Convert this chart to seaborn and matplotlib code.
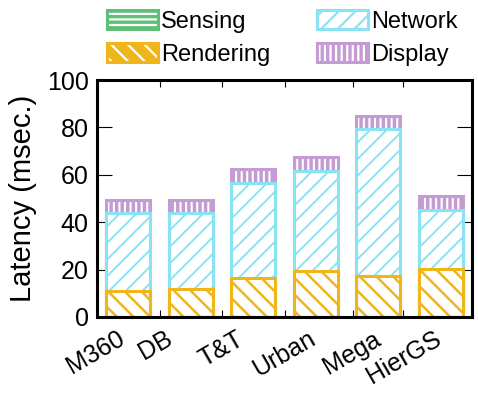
import numpy as np
import pandas as pd
import matplotlib
matplotlib.use('Agg')
import matplotlib.pyplot as plt
import seaborn as sns
from matplotlib.patches import Patch
from matplotlib.legend_handler import HandlerTuple

# data (msec.)
datasets = ['M360', 'DB', 'T&T', 'Urban', 'Mega', 'HierGS']
sensing = [0.4, 0.4, 0.4, 0.4, 0.4, 0.4]
rendering = [10.6, 11.4, 16.1, 19.0, 16.9, 19.9]
network = [32.9, 32.2, 40.0, 42.0, 62.0, 24.8]
display = [5.3, 5.4, 5.8, 5.9, 5.7, 5.8]

df = pd.DataFrame({'dataset': datasets, 'Sensing': sensing, 'Rendering': rendering,
                   'Network': network, 'Display': display})
layers = ['Sensing', 'Rendering', 'Network', 'Display']
tops = df[layers].cumsum(axis=1)

c_sens = '#5fbf77'
c_rend = '#f1b51c'
c_net = '#8ae3f2'
c_disp = '#c59bd3'

sns.set_style('ticks')
plt.rcParams['font.family'] = ['Liberation Sans', 'DejaVu Sans']
plt.rcParams['hatch.linewidth'] = 1.6
for k in ['text.color', 'axes.labelcolor', 'xtick.color', 'ytick.color']:
    plt.rcParams[k] = 'black'

fig, ax = plt.subplots(figsize=(4.78, 3.99), dpi=100)
fig.subplots_adjust(left=97 / 478, right=472 / 478, bottom=1 - 317 / 399, top=1 - 80 / 399)

W = 0.7
LW = 2.2


def draw(y, face, hatch_col, hatch, edge, hlw):
    # filled part with hatch, then outline
    with plt.rc_context({'hatch.linewidth': hlw}):
        sns.barplot(x=df['dataset'], y=y, ax=ax, width=W, saturation=1, errorbar=None,
                    facecolor=face, edgecolor=hatch_col, hatch=hatch, linewidth=0)
    sns.barplot(x=df['dataset'], y=y, ax=ax, width=W, saturation=1, errorbar=None,
                facecolor='none', edgecolor=edge, linewidth=LW)


# drawn top-down, each lower layer covers the one above
draw(tops['Display'], c_disp, 'white', '|||', c_disp, 1.5)
draw(tops['Network'], 'white', c_net, '//', c_net, 1.4)
draw(tops['Rendering'], 'white', c_rend, '\\\\', c_rend, 1.8)
sns.barplot(x=df['dataset'], y=tops['Sensing'], ax=ax, width=W, saturation=1, errorbar=None,
            facecolor=c_sens, edgecolor=c_sens, linewidth=0.8)

ax.set_xlim(-0.5, 5.5)
ax.set_ylim(0, 100)
ax.set_yticks([0, 20, 40, 60, 80, 100])
ax.set_xticks(range(len(datasets)))
ax.set_xticklabels([])
ax.set_xticks([0.5, 1.5, 2.5, 3.6, 4.4], minor=True)
ax.tick_params(axis='y', which='major', direction='in', length=11, width=0.8,
               left=True, right=True, labelsize=18, pad=6)
ax.tick_params(axis='x', which='major', length=0)
ax.tick_params(axis='x', which='minor', direction='in', length=5, width=0.8,
               top=True, bottom=True)
for s in ax.spines.values():
    s.set_visible(True)
    s.set_linewidth(LW)
    s.set_color('black')

ax.set_xlabel('')
ax.set_ylabel('Latency (msec.)', fontsize=21, labelpad=7)

# rotated category labels
dx = [0, -10, -4, 3, 5, 3]
for i, name in enumerate(datasets):
    ax.annotate(name, xy=(i, 0), xycoords=('data', 'axes fraction'),
                xytext=(dx[i], -7), textcoords='offset points',
                rotation=30, ha='right', va='top', fontsize=18)


def handle(face, hatch_col, hatch, edge):
    return (Patch(facecolor=face, edgecolor=hatch_col, hatch=hatch, linewidth=0),
            Patch(facecolor='none', edgecolor=edge, linewidth=LW))


handles = [handle(c_sens, 'white', '---', c_sens),
           handle(c_rend, 'white', '\\\\', c_rend),
           handle('white', c_net, '//', c_net),
           handle(c_disp, 'white', '|||', c_disp)]
fig.legend(handles=handles, labels=['Sensing', 'Rendering', 'Network', 'Display'],
           handler_map={tuple: HandlerTuple(ndivide=1, pad=0)}, ncol=2,
           loc='upper left', bbox_to_anchor=(107 / 478, 1 - 10 / 399), frameon=False,
           fontsize=17, handlelength=2.16, handleheight=0.89, handletextpad=0.12,
           columnspacing=2.0, labelspacing=0.42, borderpad=0, borderaxespad=0)

fig.savefig('out.png', dpi=100)
